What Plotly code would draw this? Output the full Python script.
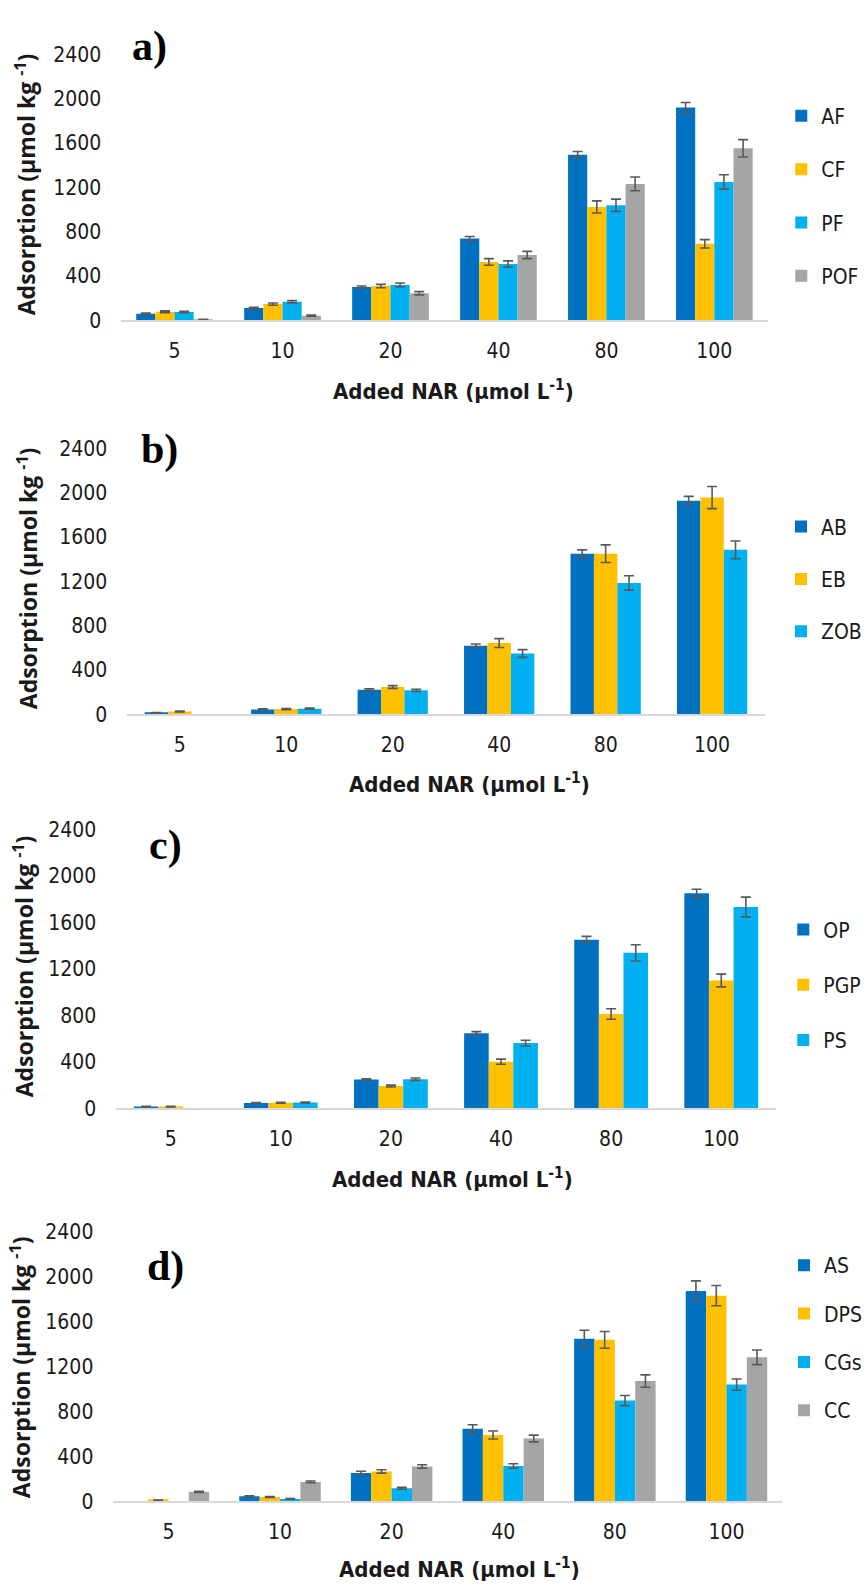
import plotly.graph_objects as go

categories = ["5", "10", "20", "40", "80", "100"]

# Panel a
AF = [59, 110, 300, 738, 1493, 1921]
AF_err = [6, 8, 10, 18, 30, 45]
CF = [77, 146, 309, 526, 1023, 690]
CF_err = [8, 10, 15, 30, 55, 38]
PF = [74, 167, 318, 508, 1038, 1249]
PF_err = [6, 10, 18, 28, 55, 65]
POF = [6, 42, 244, 589, 1231, 1552]
POF_err = [3, 6, 15, 33, 62, 78]

# Panel b
AB = [12, 44, 222, 619, 1449, 1926]
AB_err = [3, 5, 8, 15, 35, 40]
EB = [25, 47, 246, 643, 1449, 1956]
EB_err = [4, 5, 12, 40, 80, 100]
ZOB = [None, 50, 216, 548, 1185, 1484]
ZOB_err = [0, 5, 10, 35, 65, 80]

# Panel c
OP = [14, 45, 247, 645, 1450, 1851]
OP_err = [3, 4, 6, 15, 30, 35]
PGP = [14, 48, 191, 401, 811, 1100]
PGP_err = [3, 4, 8, 22, 45, 55]
PS = [None, 50, 250, 561, 1338, 1733]
PS_err = [0, 4, 10, 25, 70, 85]

# Panel d
AS = [None, 44, 252, 645, 1445, 1870]
AS_err = [0, 4, 15, 35, 75, 90]
DPS = [9, 38, 265, 589, 1435, 1828]
DPS_err = [2, 4, 15, 35, 75, 90]
CGs = [None, 20, 115, 313, 895, 1037]
CGs_err = [0, 3, 8, 20, 45, 50]
CC = [84, 172, 309, 558, 1069, 1280]
CC_err = [5, 8, 15, 30, 55, 65]

y_ticks = [0, 400, 800, 1200, 1600, 2000, 2400]

DARK_BLUE = "#0070C0"
GOLD = "#FFC000"
LIGHT_BLUE = "#00B0F0"
GRAY = "#A5A5A5"
TXT = "#1a1a1a"

W, H = 867, 1593
NARROW = "DejaVu Sans Condensed, Liberation Sans Narrow, Arial Narrow, sans-serif"
BOLD = "Open Sans, Noto Sans, sans-serif"
SERIF = "Liberation Serif, Times New Roman, serif"

panels = [
    dict(name="a)", series=[("AF", AF, AF_err, DARK_BLUE), ("CF", CF, CF_err, GOLD),
                             ("PF", PF, PF_err, LIGHT_BLUE), ("POF", POF, POF_err, GRAY)],
         plot=(121, 771, 43, 313), group=0.71, label=(150, 35), ytitle=(26, 175),
         xtitle=(455, 384), legend=(784, 85, 23)),
    dict(name="b)", series=[("AB", AB, AB_err, DARK_BLUE), ("EB", EB, EB_err, GOLD),
                             ("ZOB", ZOB, ZOB_err, LIGHT_BLUE)],
         plot=(127, 768, 443, 713), group=0.66, label=(160, 444), ytitle=(28, 575),
         xtitle=(471, 783), legend=(784, 502, 22)),
    dict(name="c)", series=[("OP", OP, OP_err, DARK_BLUE), ("PGP", PGP, PGP_err, GOLD),
                             ("PS", PS, PS_err, LIGHT_BLUE)],
         plot=(116, 779, 830, 1113), group=0.67, label=(166, 846), ytitle=(24, 969),
         xtitle=(454, 1184), legend=(786, 911, 25)),
    dict(name="d)", series=[("AS", AS, AS_err, DARK_BLUE), ("DPS", DPS, DPS_err, GOLD),
                             ("CGs", CGs, CGs_err, LIGHT_BLUE), ("CC", CC, CC_err, GRAY)],
         plot=(113, 785, 1238, 1512), group=0.73, label=(166, 1274), ytitle=(21, 1376),
         xtitle=(461, 1580), legend=(787, 1252, 18)),
]

fig = go.Figure()
annotations = []
layout = dict(
    width=W, height=H, margin=dict(l=0, r=0, t=0, b=0, pad=0),
    paper_bgcolor="white", plot_bgcolor="white",
    barmode="overlay", showlegend=True,
)

for i, p in enumerate(panels):
    k = i + 1
    xa = "x" if k == 1 else f"x{k}"
    ya = "y" if k == 1 else f"y{k}"
    leg = "legend" if k == 1 else f"legend{k}"
    n = len(p["series"])
    g = p["group"]
    w = g / n
    for j, (nm, vals, errs, col) in enumerate(p["series"]):
        fig.add_trace(go.Bar(
            x=categories, y=vals, name=nm,
            width=w, offset=-g / 2 + j * w,
            marker=dict(color=col, line=dict(width=0)),
            error_y=dict(type="data", array=errs, visible=True, color="#595959",
                         thickness=1.6, width=5),
            xaxis=xa, yaxis=ya, legend=leg, legendgroup=f"{k}{nm}",
        ))
    x0, x1, y0, y1 = p["plot"]
    layout["xaxis" if k == 1 else f"xaxis{k}"] = dict(
        domain=[x0 / W, x1 / W], anchor=ya, type="category",
        showline=True, linecolor="#D9D9D9", linewidth=1.5, showgrid=False, zeroline=False,
        ticks="outside", ticklen=11, tickcolor="rgba(0,0,0,0)",
        tickfont=dict(family=NARROW, size=21, color=TXT),
    )
    layout["yaxis" if k == 1 else f"yaxis{k}"] = dict(
        domain=[1 - y1 / H, 1 - y0 / H], anchor=xa, range=[0, 2400],
        tickvals=y_ticks, showgrid=False, zeroline=False, showline=False,
        ticks="outside", ticklen=14, tickcolor="rgba(0,0,0,0)",
        tickfont=dict(family=NARROW, size=21, color=TXT),
    )
    lx, ly, gap = p["legend"]
    layout[leg] = dict(
        x=lx / W, y=1 - ly / H, xanchor="left", yanchor="top",
        font=dict(family=NARROW, size=21, color=TXT),
        tracegroupgap=gap, bgcolor="rgba(0,0,0,0)", borderwidth=0,
    )
    lbx, lby = p["label"]
    annotations.append(dict(text="<b>" + p["name"] + "</b>", x=lbx / W, y=1 - lby / H,
                            xref="paper", yref="paper", xanchor="center", yanchor="middle",
                            showarrow=False, font=dict(family=SERIF, size=42, color="black")))
    tx, ty = p["ytitle"]
    annotations.append(dict(text="<b>Adsorption (µmol kg <sup>-1</sup>)</b>", x=tx / W, y=1 - ty / H,
                            xref="paper", yref="paper", xanchor="center", yanchor="middle",
                            showarrow=False, textangle=-90,
                            font=dict(family=BOLD, size=23, color=TXT)))
    txx, txy = p["xtitle"]
    annotations.append(dict(text="<b>Added NAR (µmol L<sup>-1</sup>)</b>", x=txx / W, y=1 - txy / H,
                            xref="paper", yref="paper", xanchor="center", yanchor="middle",
                            showarrow=False, font=dict(family=NARROW, size=22, color=TXT)))

layout["annotations"] = annotations
fig.update_layout(**layout)
fig.write_html("out.html", config={"displayModeBar": False},
               post_script="document.body.style.margin='0px';document.body.style.overflow='hidden';")
